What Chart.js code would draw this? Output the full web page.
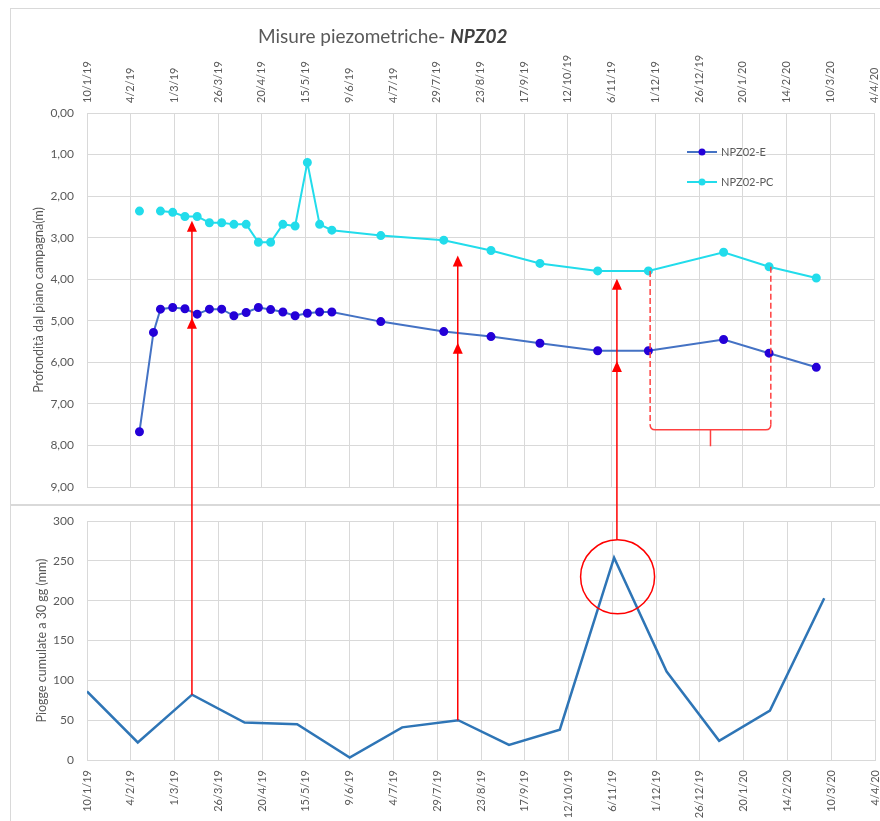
<!DOCTYPE html>
<html>
<head>
<meta charset="utf-8">
<script src="https://cdn.jsdelivr.net/npm/chart.js@4.4.1/dist/chart.umd.min.js"></script>
<style>
  body { margin: 0; background: #fff; }
  #wrap { position: relative; width: 880px; height: 821px; overflow: hidden; font-family: Lato, sans-serif; }
  .box { position: absolute; border: 1px solid #d9d9d9; border-right: none; }
  canvas { position: absolute; left: 0; }
  #title { position: absolute; left: 258px; top: 26px; font-size: 19px; line-height: 19px; color: #595959; white-space: nowrap; }
  #title b { color: #404040; font-style: italic; }
</style>
</head>
<body>
<div id="wrap">
  <div class="box" style="left:10px; top:8px; width:880px; height:495px;"></div>
  <div class="box" style="left:10px; top:505px; width:880px; height:330px;"></div>
  <canvas id="levelChart" width="880" height="504" style="top:0"></canvas>
  <canvas id="rainChart" width="880" height="316" style="top:505px"></canvas>
  <canvas id="marks" width="880" height="821" style="top:0"></canvas>
  <div id="title">Misure piezometriche- <b>NPZ02</b></div>
</div>
<script>
const startDate = "2019-01-10";
const tickLabels = ["10/1/19", "4/2/19", "1/3/19", "26/3/19", "20/4/19", "15/5/19", "9/6/19", "4/7/19",
  "29/7/19", "23/8/19", "17/9/19", "12/10/19", "6/11/19", "1/12/19", "26/12/19", "20/1/20",
  "14/2/20", "10/3/20", "4/4/20"];

// piezometric readings (depth below ground, m)
const levelDates = ["2019-02-09", "2019-02-17", "2019-02-21", "2019-02-28", "2019-03-07", "2019-03-14",
  "2019-03-21", "2019-03-28", "2019-04-04", "2019-04-11", "2019-04-18", "2019-04-25", "2019-05-02",
  "2019-05-09", "2019-05-16", "2019-05-23", "2019-05-30", "2019-06-27", "2019-08-02", "2019-08-29",
  "2019-09-26", "2019-10-29", "2019-11-27", "2020-01-09", "2020-02-04", "2020-03-02"];
const levelE = [7.67, 5.28, 4.72, 4.68, 4.71, 4.84, 4.72, 4.72, 4.88, 4.80, 4.68, 4.73, 4.79,
  4.88, 4.82, 4.79, 4.79, 5.02, 5.26, 5.38, 5.54, 5.72, 5.72, 5.45, 5.78, 6.12];
const levelPC = [2.36, null, 2.36, 2.39, 2.49, 2.49, 2.64, 2.64, 2.68, 2.68, 3.11, 3.11, 2.68,
  2.72, 1.19, 2.68, 2.82, 2.95, 3.06, 3.31, 3.62, 3.80, 3.80, 3.35, 3.70, 3.97];

// 30-day cumulated rain (mm)
const rainDates = ["2019-01-10", "2019-02-08", "2019-03-11", "2019-04-10", "2019-05-10", "2019-06-09",
  "2019-07-09", "2019-08-10", "2019-09-08", "2019-10-07", "2019-11-07", "2019-12-07", "2020-01-06",
  "2020-02-04", "2020-03-06"];
const rainMm = [86, 22, 82, 47, 45, 3, 41, 50, 19, 38, 254, 111, 24, 62, 203];

// red notes across both panels
const arrowDates = ["2019-03-11", "2019-08-10", "2019-11-09"];
const arrowFromRain = [82, 50, null];   // null = starts from the circle
const arrowTipPC = [2.59, 3.43, 3.99];
const arrowTipE = [4.93, 5.53, 5.97];
const circleDate = "2019-11-09";
const circleRain = 230;
const braceDates = ["2019-11-28", "2020-02-05"];
const braceFrom = [3.80, 3.70];
const braceDepth = 7.62;
const braceTip = 8.02;

const grey = "#595959";
const gridColor = "#d9d9d9";

function day(s) {
  return (Date.parse(s) - Date.parse(startDate)) / 86400000;
}
function points(dates, values) {
  return dates.map((d, i) => ({ x: day(d), y: values[i] }));
}

function dateAxis(position, shift, height) {
  return {
    type: "linear", position: position, min: 0, max: 450,
    ticks: {
      stepSize: 25, autoSkip: false, maxRotation: 90, minRotation: 90, padding: 10, labelOffset: shift,
      color: grey, font: { family: "Lato", size: 11 },
      callback: (v, i) => tickLabels[i]
    },
    grid: { color: gridColor, drawTicks: false },
    border: { color: gridColor },
    afterFit: s => { s.height = height; s.paddingLeft = 0; s.paddingRight = 0; }
  };
}

function valueAxis(extra) {
  return Object.assign({
    grid: { color: gridColor, drawTicks: false },
    border: { color: gridColor },
    afterFit: s => { s.width = 87; s.paddingTop = 0; s.paddingBottom = 0; }
  }, extra);
}

const insideLegend = {
  id: "insideLegend",
  afterDraw(chart) {
    const c = chart.ctx;
    c.save();
    chart.data.datasets.forEach((ds, i) => {
      const y = 152 + i * 30;
      c.strokeStyle = ds.borderColor;
      c.lineWidth = 2;
      c.beginPath(); c.moveTo(687, y); c.lineTo(717, y); c.stroke();
      c.fillStyle = ds.pointBackgroundColor;
      c.beginPath(); c.arc(702, y, 3.5, 0, Math.PI * 2); c.fill();
      c.fillStyle = grey;
      c.font = "11px Lato";
      c.textBaseline = "middle";
      c.fillText(ds.label, 721, y);
    });
    c.restore();
  }
};

const levelChart = new Chart(document.getElementById("levelChart"), {
  type: "line",
  data: {
    datasets: [
      {
        label: "NPZ02-E", data: points(levelDates, levelE),
        borderColor: "#4472c4", borderWidth: 2,
        pointBackgroundColor: "#2400d8", pointBorderColor: "#2400d8", pointRadius: 3.5
      },
      {
        label: "NPZ02-PC", data: points(levelDates, levelPC),
        borderColor: "#22dceb", borderWidth: 2, spanGaps: false,
        pointBackgroundColor: "#22dceb", pointBorderColor: "#22dceb", pointRadius: 3.5
      }
    ]
  },
  options: {
    responsive: false, animation: false, events: [],
    layout: { padding: { left: 0, right: 5, top: 0, bottom: 17 } },
    plugins: { legend: { display: false }, tooltip: { enabled: false } },
    scales: {
      // rotated top labels are drawn one line-height left of the tick, move them back
      x: dateAxis("top", 13.2, 113),
      y: valueAxis({
        reverse: true, min: 0, max: 9,
        ticks: {
          stepSize: 1, padding: 13, color: grey, font: { family: "Lato", size: 12 },
          callback: v => v.toFixed(2).replace(".", ",")
        },
        title: {
          display: true, text: "Profondità dal piano campagna(m)", color: grey,
          font: { family: "Lato", size: 12.5 }, padding: { top: 31, bottom: 0 }
        }
      })
    }
  },
  plugins: [insideLegend]
});

const rainChart = new Chart(document.getElementById("rainChart"), {
  type: "line",
  data: {
    datasets: [{
      label: "Piogge", data: points(rainDates, rainMm),
      borderColor: "#2e75b6", borderWidth: 2.5, pointRadius: 0
    }]
  },
  options: {
    responsive: false, animation: false, events: [],
    layout: { padding: { left: 0, right: 5, top: 16, bottom: 0 } },
    plugins: { legend: { display: false }, tooltip: { enabled: false } },
    scales: {
      x: dateAxis("bottom", 0, 61),
      y: valueAxis({
        min: 0, max: 300,
        ticks: { stepSize: 50, padding: 13, color: grey, font: { family: "Lato", size: 12 } },
        title: {
          display: true, text: "Piogge cumulate a 30 gg (mm)", color: grey,
          font: { family: "Lato", size: 12.5 }, padding: { top: 34, bottom: 0 }
        }
      })
    }
  }
});

// overlay: arrows, circle and brace
const ctx = document.getElementById("marks").getContext("2d");
const rainTop = 505;
const lx = v => levelChart.scales.x.getPixelForValue(v);
const ly = v => levelChart.scales.y.getPixelForValue(v);
const rx = v => rainChart.scales.x.getPixelForValue(v);
const ry = v => rainTop + rainChart.scales.y.getPixelForValue(v);

function head(x, y) {
  ctx.beginPath();
  ctx.moveTo(x, y);
  ctx.lineTo(x - 5, y + 11);
  ctx.lineTo(x + 5, y + 11);
  ctx.closePath();
  ctx.fill();
}

ctx.strokeStyle = "#ff0000";
ctx.fillStyle = "#ff0000";
ctx.lineWidth = 1.5;

const cx = rx(day(circleDate)), cy = ry(circleRain), cr = 37;
ctx.beginPath();
ctx.arc(cx, cy, cr, 0, Math.PI * 2);
ctx.stroke();

arrowDates.forEach((d, i) => {
  const x = lx(day(d));
  const y0 = arrowFromRain[i] === null ? cy - cr : ry(arrowFromRain[i]);
  const y1 = ly(arrowTipPC[i]);
  ctx.beginPath();
  ctx.moveTo(x, y0);
  ctx.lineTo(x, y1 + 4);
  ctx.stroke();
  head(x, y1);
  head(x, ly(arrowTipE[i]));
});

const bx0 = lx(day(braceDates[0])), bx1 = lx(day(braceDates[1]));
const by = ly(braceDepth), r = 5;
ctx.strokeStyle = "#ff4040";
ctx.setLineDash([6, 3]);
ctx.beginPath();
ctx.moveTo(bx0, ly(braceFrom[0])); ctx.lineTo(bx0, by - r);
ctx.moveTo(bx1, ly(braceFrom[1])); ctx.lineTo(bx1, by - r);
ctx.stroke();
ctx.setLineDash([]);
const bm = (bx0 + bx1) / 2;
ctx.beginPath();
ctx.moveTo(bx0, by - r);
ctx.quadraticCurveTo(bx0, by, bx0 + r, by);
ctx.lineTo(bx1 - r, by);
ctx.quadraticCurveTo(bx1, by, bx1, by - r);
ctx.moveTo(bm, by);
ctx.lineTo(bm, ly(braceTip));
ctx.stroke();
</script>
</body>
</html>
